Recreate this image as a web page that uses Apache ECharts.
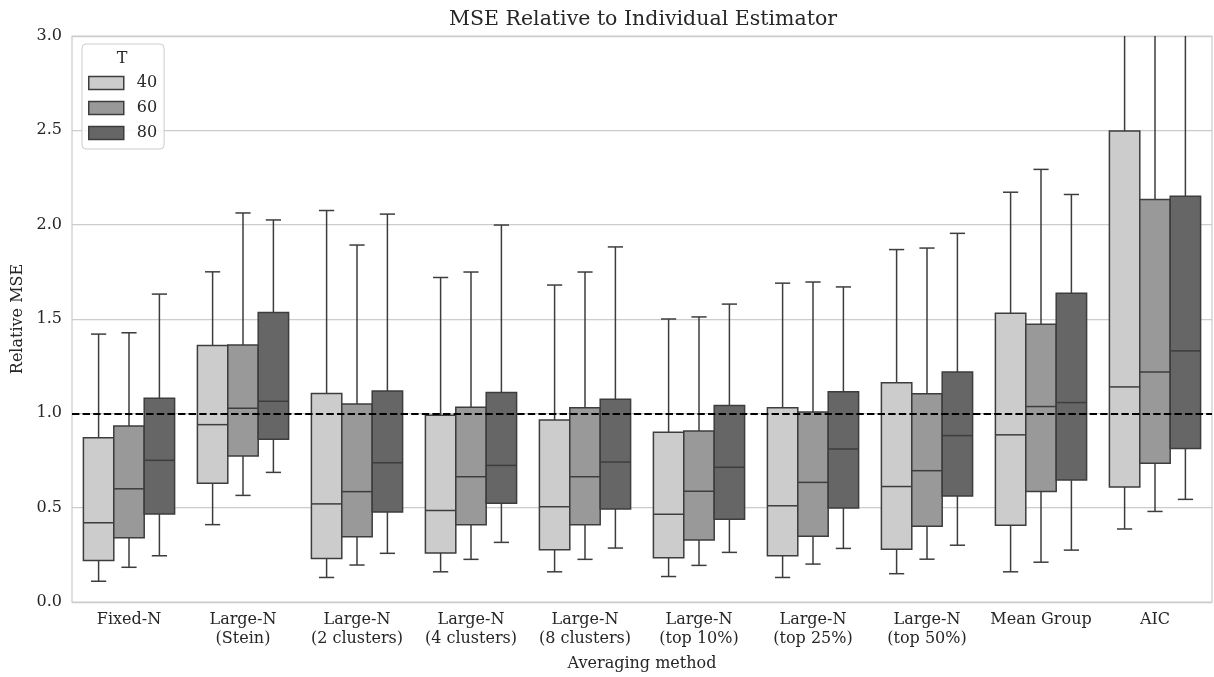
<!DOCTYPE html>
<html>
<head>
<meta charset="utf-8">
<script src="https://cdn.jsdelivr.net/npm/echarts@6/dist/echarts.min.js"></script>
<style>html,body{margin:0;padding:0;background:#fff;}#chart{width:1214px;height:677px;}</style>
</head>
<body>
<div id="chart"></div>
<script>
// Categories (x axis)
const categories = ['Fixed-N', 'Large-N\n(Stein)', 'Large-N\n(2 clusters)', 'Large-N\n(4 clusters)',
  'Large-N\n(8 clusters)', 'Large-N\n(top 10%)', 'Large-N\n(top 25%)', 'Large-N\n(top 50%)',
  'Mean Group', 'AIC'];
// Series names (legend, title "T")
const seriesNames = ['40', '60', '80'];
// Box stats per category: [lower whisker, Q1, median, Q3, upper whisker]
const T40 = [
  [0.11, 0.22, 0.42, 0.87, 1.42],
  [0.41, 0.63, 0.94, 1.36, 1.75],
  [0.13, 0.23, 0.52, 1.105, 2.075],
  [0.16, 0.26, 0.485, 0.99, 1.72],
  [0.16, 0.277, 0.505, 0.965, 1.68],
  [0.135, 0.235, 0.465, 0.90, 1.50],
  [0.13, 0.245, 0.51, 1.03, 1.69],
  [0.15, 0.28, 0.612, 1.162, 1.868],
  [0.16, 0.407, 0.886, 1.53, 2.172],
  [0.387, 0.61, 1.14, 2.496, 4.8]
];
const T60 = [
  [0.184, 0.34, 0.60, 0.933, 1.427],
  [0.565, 0.774, 1.027, 1.362, 2.062],
  [0.196, 0.346, 0.585, 1.049, 1.892],
  [0.226, 0.41, 0.664, 1.032, 1.749],
  [0.226, 0.41, 0.664, 1.03, 1.749],
  [0.194, 0.329, 0.587, 0.906, 1.511],
  [0.201, 0.348, 0.634, 1.007, 1.696],
  [0.227, 0.401, 0.696, 1.104, 1.876],
  [0.211, 0.586, 1.036, 1.472, 2.293],
  [0.48, 0.736, 1.219, 2.133, 4.2]
];
const T80 = [
  [0.245, 0.466, 0.751, 1.08, 1.632],
  [0.687, 0.862, 1.064, 1.534, 2.025],
  [0.258, 0.477, 0.738, 1.118, 2.056],
  [0.316, 0.523, 0.724, 1.11, 1.998],
  [0.286, 0.493, 0.742, 1.074, 1.882],
  [0.263, 0.438, 0.714, 1.041, 1.579],
  [0.284, 0.498, 0.811, 1.115, 1.67],
  [0.301, 0.562, 0.882, 1.219, 1.954],
  [0.275, 0.646, 1.057, 1.636, 2.16],
  [0.544, 0.814, 1.331, 2.151, 4.1]
];
// Y axis ticks
const yTicks = [0.0, 0.5, 1.0, 1.5, 2.0, 2.5, 3.0];
const refLine = 1.0;

const fills = ['#cccccc', '#999999', '#666666'];
const edge = '#3d3d3d';
const FONT = 'DejaVu Serif';
const TXT = '#262626';
const allData = [T40, T60, T80];

function makeRender(si) {
  return function (params, api) {
    const ci = api.value(0);
    const band = api.size([1, 0])[0];
    const w = band * 0.8 / 3;
    const cx = api.coord([ci, 0])[0] + (si - 1) * w;
    const y = k => api.coord([ci, api.value(k)])[1];
    const yMin = y(1), yQ1 = y(2), yMed = y(3), yQ3 = y(4), yMax = y(5);
    const ls = { stroke: edge, lineWidth: 1.5, fill: null };
    return {
      type: 'group',
      children: [
        { type: 'line', shape: { x1: cx, y1: yQ1, x2: cx, y2: yMin }, style: ls },
        { type: 'line', shape: { x1: cx, y1: yQ3, x2: cx, y2: yMax }, style: ls },
        { type: 'line', shape: { x1: cx - w / 4, y1: yMin, x2: cx + w / 4, y2: yMin }, style: ls },
        { type: 'line', shape: { x1: cx - w / 4, y1: yMax, x2: cx + w / 4, y2: yMax }, style: ls },
        { type: 'rect', shape: { x: cx - w / 2, y: yQ3, width: w, height: yQ1 - yQ3 },
          style: { fill: fills[si], stroke: edge, lineWidth: 1.5 } },
        { type: 'line', shape: { x1: cx - w / 2, y1: yMed, x2: cx + w / 2, y2: yMed }, style: ls }
      ]
    };
  };
}

const series = seriesNames.map((name, si) => {
  const s = {
    name: name,
    type: 'custom',
    clip: true,
    renderItem: makeRender(si),
    itemStyle: { color: fills[si], borderColor: edge, borderWidth: 1.5 },
    encode: { x: 0, y: [1, 2, 3, 4, 5] },
    data: allData[si].map((d, ci) => [ci].concat(d)),
    z: 2
  };
  if (si === 2) {
    s.markLine = {
      silent: true,
      symbol: 'none',
      z: 10,
      label: { show: false },
      lineStyle: { color: '#000', type: [7.4, 3.2], width: 2 },
      data: [{ yAxis: refLine }]
    };
  }
  return s;
});

const chart = echarts.init(document.getElementById('chart'));
chart.setOption({
  animation: false,
  backgroundColor: '#fff',
  title: {
    text: 'MSE Relative to Individual Estimator',
    left: 444,
    top: 4,
    textStyle: { fontFamily: FONT, fontSize: 20.5, fontWeight: 'normal', color: TXT }
  },
  grid: { left: 72, right: 2, top: 36, bottom: 75, show: true, borderColor: '#cccccc', borderWidth: 1.25 },
  legend: {
    orient: 'vertical',
    left: 82, top: 44,
    padding: [31, 7, 8, 6],
    itemGap: 9,
    itemWidth: 35, itemHeight: 13,
    icon: 'rect',
    backgroundColor: 'rgba(255,255,255,0.85)',
    borderColor: '#cccccc', borderWidth: 1, borderRadius: 4,
    textStyle: { fontFamily: FONT, fontSize: 16, color: TXT, padding: [0, 0, 0, 8] },
    data: seriesNames.map((n, i) => ({ name: n, itemStyle: { color: fills[i], borderColor: edge, borderWidth: 1.5 } }))
  },
  graphic: [{
    type: 'text', z: 100, x: 122, y: 59,
    style: { text: 'T', textAlign: 'center', textVerticalAlign: 'middle', font: '16px "DejaVu Serif"', fill: TXT }
  }],
  xAxis: {
    type: 'category',
    data: categories,
    name: 'Averaging method',
    nameLocation: 'middle',
    nameGap: 54,
    nameTextStyle: { fontFamily: FONT, fontSize: 16, color: TXT },
    axisLine: { show: false },
    axisTick: { show: false },
    splitLine: { show: false },
    axisLabel: { fontFamily: FONT, fontSize: 16, color: TXT, margin: 8, lineHeight: 19, interval: 0 }
  },
  yAxis: {
    type: 'value',
    min: yTicks[0], max: yTicks[yTicks.length - 1], interval: 0.5,
    name: 'Relative MSE',
    nameLocation: 'middle',
    nameGap: 46,
    nameTextStyle: { fontFamily: FONT, fontSize: 16, color: TXT },
    axisLine: { show: false },
    axisTick: { show: false },
    splitLine: { lineStyle: { color: '#cccccc', width: 1.25 } },
    axisLabel: { fontFamily: FONT, fontSize: 16, color: TXT, margin: 10, formatter: v => v.toFixed(1) }
  },
  series: series
});
</script>
</body>
</html>
